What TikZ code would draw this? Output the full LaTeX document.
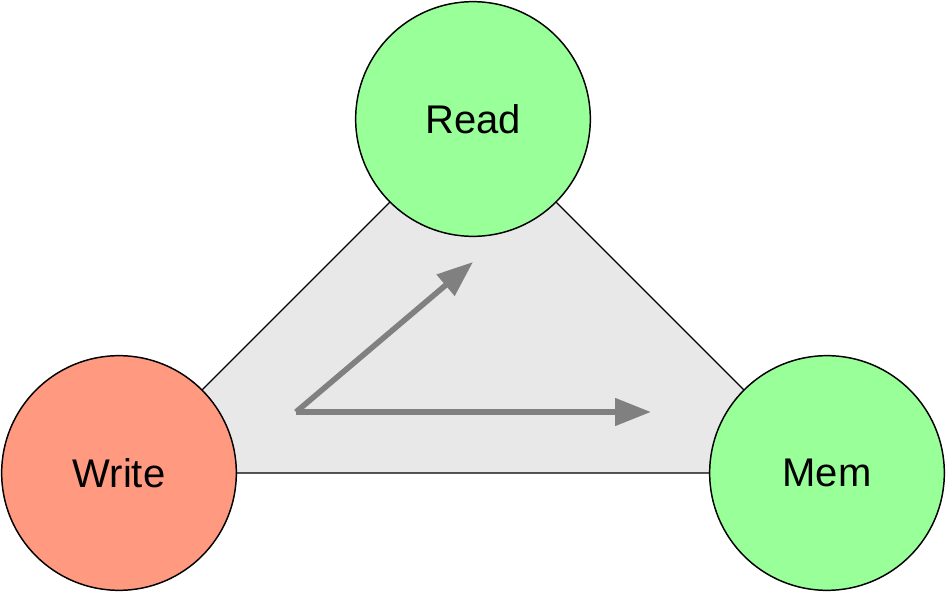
\documentclass[tikz,border=0pt]{standalone}
\usepackage{fontspec}
\setmainfont{Liberation Sans}
\usetikzlibrary{arrows.meta}

\definecolor{writefill}{RGB}{255,153,128}
\definecolor{readfill}{RGB}{153,255,153}
\definecolor{areafill}{RGB}{232,232,232}
\definecolor{vecgray}{RGB}{128,128,128}

\tikzset{every picture/.style={line width=0.75pt}}
\tikzset{
  opcircle/.style={circle, draw=black, line width=1.1pt, minimum size=176pt, inner sep=0pt, font=\fontsize{30}{36}\selectfont},
  vecarrow/.style={draw=vecgray, line width=4.2pt, -{Triangle[length=27pt,width=20pt]}}
}

\begin{document}
\begin{tikzpicture}[x=0.75pt,y=0.75pt,yscale=-1,xscale=1]
\useasboundingbox (0,0) rectangle (947,592);
% Triangle area
\coordinate (rc) at (473,119);
\coordinate (wc) at (119,473);
\coordinate (mc) at (827,473);
\draw [fill=areafill, line width=1pt] (wc) -- (rc) -- (mc) -- cycle;
% Vectors
\coordinate (orig) at (296,412);
\coordinate (toread) at (473,262);
\coordinate (tomem) at (651,412);
\draw [vecarrow] (orig) -- (toread);
\draw [vecarrow] (orig) -- (tomem);
% Circles
\node [opcircle, fill=readfill] (read) at (rc) {Read};
\node [opcircle, fill=writefill] (write) at (wc) {Write};
\node [opcircle, fill=readfill] (mem) at (mc) {Mem};
\end{tikzpicture}
\end{document}
